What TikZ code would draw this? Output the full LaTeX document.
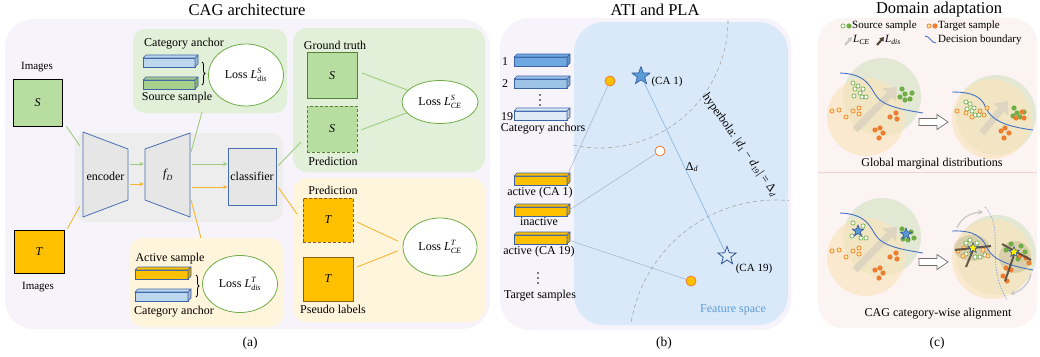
\documentclass[tikz,border=0pt]{standalone}
\usepackage{fontspec}
\setmainfont{Liberation Serif}
\usepackage{amsmath}
\usetikzlibrary{shapes.geometric,arrows.meta,calc,decorations.pathreplacing}
\definecolor{bgA}{HTML}{F6F4FA}
\definecolor{bbg}{HTML}{EDEDED}
\definecolor{trapfill}{HTML}{E6E6E6}
\definecolor{tblue}{HTML}{4A6DB5}
\definecolor{gpanel}{HTML}{E2F0D9}
\definecolor{ypanel}{HTML}{FFF5DC}
\definecolor{sgreen}{HTML}{B7DEA0}
\definecolor{dgreenb}{HTML}{548235}
\definecolor{torange}{HTML}{FFC000}
\definecolor{tbrown}{HTML}{8C5E10}
\definecolor{lgreen}{HTML}{9ECC7E}
\definecolor{lorange}{HTML}{F5B730}
\definecolor{egreen}{HTML}{70AD47}
\definecolor{barline}{HTML}{3B63A8}
\definecolor{barblue}{HTML}{BDD7EE}
\definecolor{bargreen}{HTML}{A9D18E}
\definecolor{cablue1}{HTML}{6FA8E0}
\definecolor{cablue2}{HTML}{9DC3E6}
\definecolor{cablue3}{HTML}{DEEBF7}
\definecolor{fspace}{HTML}{DAE9FA}
\definecolor{flinec}{HTML}{A3B3C6}
\definecolor{starblue}{HTML}{5B9BD5}
\definecolor{stardark}{HTML}{2F5597}
\definecolor{ptorange}{HTML}{ED7D31}
\definecolor{bgC}{HTML}{FCF3F3}
\definecolor{sepC}{HTML}{F0D2D2}
\definecolor{cgreen}{HTML}{E3E8D5}
\definecolor{corange}{HTML}{FBE3B7}
\definecolor{ptgreen}{HTML}{70AD47}
\definecolor{ptyellow}{HTML}{FFE699}
\definecolor{bigarr}{HTML}{DDD5C0}
\definecolor{dbound}{HTML}{4472C4}
\definecolor{ldisc}{HTML}{4D4136}
\definecolor{clus}{HTML}{BDB68C}

\newcommand\featbar[5]{%
  \node[draw=barline,fill=#5,line width=.6pt,minimum width=#4,minimum height=9pt,inner sep=0pt,outer sep=0pt,anchor=north west] (#1) at (#2,#3) {};
  \filldraw[draw=barline,fill=#5,line width=.6pt,line join=round] (#1.north west) -- ++(3,-3) -- ($(#1.north east)+(3,-3)$) -- (#1.north east) -- cycle;
  \filldraw[draw=barline,fill=#5!85!black,line width=.6pt,line join=round] (#1.north east) -- ++(3,-3) -- ($(#1.south east)+(3,-3)$) -- (#1.south east) -- cycle;
}
\newcommand\ptGh[2]{\filldraw[draw=ptgreen,fill=white,line width=.7pt] (#1,#2) circle[radius=2.1pt];}
\newcommand\ptGf[2]{\fill[ptgreen] (#1,#2) circle[radius=2.6pt];}
\newcommand\ptOh[2]{\filldraw[draw=ptorange,fill=ptyellow,line width=.7pt] (#1,#2) circle[radius=2.1pt];}
\newcommand\ptOf[2]{\fill[ptorange] (#1,#2) circle[radius=2.6pt];}
\newcommand\hollowarrow[2]{\begin{scope}[shift={(#1,#2)}]
  \filldraw[draw=gray!85!black,fill=white,line width=.7pt,line join=miter] (0,-3.5) -- (18,-3.5) -- (18,-7.5) -- (29,0) -- (18,7.5) -- (18,3.5) -- (0,3.5) -- cycle;
\end{scope}}

\begin{document}
\begin{tikzpicture}[x=1pt,y=-1pt,
  every node/.style={inner sep=0pt},
  lbl/.style={font=\fontsize{12}{14}\selectfont},
  smalllbl/.style={font=\fontsize{11}{13}\selectfont},
  ttl/.style={font=\fontsize{16.5}{19}\selectfont},
  capt/.style={font=\fontsize{13.5}{16}\selectfont},
  gline/.style={draw=lgreen, line width=0.9pt},
  oline/.style={draw=lorange, line width=0.9pt},
  arr/.style={-{Stealth[length=4.5pt,width=4pt]}},
  lossel/.style={ellipse, draw=egreen, fill=white, line width=0.8pt, font=\fontsize{12}{14}\selectfont},
  trap/.style={draw=tblue, fill=trapfill, line width=.8pt, line join=round},
  imgbox/.style={draw=black, line width=0.8pt, font=\fontsize{12}{14}\selectfont\itshape},
  sbox/.style={draw=dgreenb, fill=sgreen, line width=0.8pt, minimum width=50pt, minimum height=46pt, font=\fontsize{12}{14}\selectfont\itshape},
  tbox/.style={draw=tbrown, fill=torange, line width=0.8pt, minimum width=50pt, minimum height=44pt, font=\fontsize{12}{14}\selectfont\itshape},
  fline/.style={draw=flinec, line width=0.5pt},
  dasharc/.style={draw=gray!70, dashed, dash pattern=on 4pt off 3pt, line width=.6pt},
  fpt/.style={circle, minimum size=10pt, line width=.8pt, draw=ptorange},
  bigarrow/.style={draw=bigarr, line width=7pt, -{Triangle[length=11pt,width=18pt]}},
  ldisarrow/.style={draw=ldisc, line width=2pt, opacity=.85},
]
\useasboundingbox (0,0) rectangle (1040,356);

% ================= titles =================
\node[ttl] (t-a) at (247,10) {CAG architecture};
\node[ttl] (t-b) at (655,10) {ATI and PLA};
\node[ttl] (t-c) at (939,10) {Domain adaptation};
\node[capt] (c-a) at (250,343) {(a)};
\node[capt] (c-b) at (664,343) {(b)};
\node[capt] (c-c) at (937,343) {(c)};

% ================= panel (a) =================
\fill[bgA, rounded corners=28pt] (5,19) rectangle (490,329);
\fill[bbg, rounded corners=12pt] (75,133) rectangle (283,222);
\fill[gpanel, rounded corners=12pt] (133,29) rectangle (287,113);
\fill[ypanel, rounded corners=12pt] (130,238) rectangle (283,327);
\fill[gpanel, rounded corners=14pt] (293,28) rectangle (485,172);
\fill[ypanel, rounded corners=14pt] (293,178) rectangle (485,322);

% input images
\node[imgbox, fill=sgreen, minimum width=49pt, minimum height=47pt] (imgS) at (37.5,102.5) {S};
\node[smalllbl] (imgS-l) at (37,67) {Images};
\node[imgbox, fill=torange, minimum width=50pt, minimum height=43pt] (imgT) at (39,251.5) {T};
\node[smalllbl] (imgT-l) at (38,287) {Images};

% encoder / fD / classifier
\filldraw[trap] (83,132) -- (128,149) -- (128,200) -- (83,217) -- cycle;
\node[lbl] (enc) at (105.5,176) {encoder};
\filldraw[trap] (145,149) -- (190,133) -- (190,217) -- (145,200) -- cycle;
\node[lbl] (fd) at (168,175) {$\textit{f}_{\textit{D}}$};
\node[draw=tblue, fill=trapfill, line width=.8pt, minimum width=48pt, minimum height=57pt, lbl] (cls) at (252,176.5) {classifier};

\coordinate (encInS) at (80,146);
\coordinate (encInT) at (80,206);
\draw[gline] ($(imgS.south east)+(4,0)$) -- (encInS);
\draw[oline] ($(imgT.north east)+(3,-1)$) -- (encInT);
\coordinate (encG) at (130,164); \coordinate (fdG) at (144,164);
\coordinate (encO) at (130,184); \coordinate (fdO) at (144,184);
\draw[gline,arr] (encG) -- (fdG);
\draw[oline,arr] (encO) -- (fdO);
\coordinate (fdG2) at (192,164); \coordinate (fdO2) at (192,187);
\draw[gline,arr] (fdG2) -- (fdG2 -| cls.west);
\draw[oline,arr] (fdO2) -- (fdO2 -| cls.west);
\coordinate (fdTop) at (191,152); \coordinate (srcP) at (202,112);
\coordinate (fdBot) at (191,200); \coordinate (tgtP) at (201,238);
\draw[gline] (fdTop) -- (srcP);
\draw[oline] (fdBot) -- (tgtP);
\coordinate (gtP) at (301,142); \coordinate (ptP) at (297,214);
\draw[gline] ($(cls.east)+(2,-11)$) -- (gtP);
\draw[oline] ($(cls.east)+(2,11)$) -- (ptP);

% source distance panel
\node[lbl] (ca-a1) at (184,44) {Category anchor};
\featbar{bA1}{143}{58}{52pt}{barblue}
\featbar{bS1}{143}{80}{52pt}{bargreen}
\node[lbl] (ss-a) at (177,98) {Source sample};
\draw[decorate, decoration={brace, amplitude=3pt}, line width=.8pt] (202,62) -- (202,85);
\node[lossel, minimum width=75pt, minimum height=62pt] (ldisS) at (246,75) {Loss $\textit{L}^{\textit{S}}_{\textit{dis}}$};

% target distance panel
\node[lbl] (as-a) at (170,259) {Active sample};
\featbar{bT1}{135}{270}{53pt}{torange}
\featbar{bA2}{135}{292}{53pt}{barblue}
\node[lbl] (ca-a2) at (174,312) {Category anchor};
\draw[decorate, decoration={brace, amplitude=3pt}, line width=.8pt] (196,275) -- (196,297);
\node[lossel, minimum width=75pt, minimum height=57pt] (ldisT) at (240,284) {Loss $\textit{L}^{\textit{T}}_{\textit{dis}}$};

% source CE panel
\node[lbl] (gt-l) at (335,45) {Ground truth};
\node[sbox] (gtS) at (332,75.5) {S};
\node[sbox, dashed, dash pattern=on 3pt off 2pt] (prS) at (332,129) {S};
\node[lbl] (prS-l) at (333,161) {Prediction};
\node[lossel, minimum width=76pt, minimum height=43pt] (lceS) at (440,102) {Loss $\textit{L}^{\textit{S}}_{\textit{CE}}$};
\coordinate (gtS-o) at (362,73); \coordinate (prS-o) at (361,130);
\draw[gline] (gtS-o) -- (lceS.160);
\draw[gline] (prS-o) -- (lceS.198);

% target CE panel
\node[lbl] (prT-l) at (333,190) {Prediction};
\node[tbox, dashed, dash pattern=on 3pt off 2pt] (prT) at (328,220) {T};
\node[tbox] (plT) at (328,279) {T};
\node[lbl] (plT-l) at (333,309) {Pseudo labels};
\node[lossel, minimum width=74pt, minimum height=58pt] (lceT) at (440,247) {Loss $\textit{L}^{\textit{T}}_{\textit{CE}}$};
\coordinate (prT-o) at (357,222); \coordinate (plT-o) at (357,267);
\draw[oline] (prT-o) -- ($(lceT.west)+(-5,-6)$);
\draw[oline] (plT-o) -- ($(lceT.west)+(-5,4)$);

% ================= panel (b) =================
\fill[bgA, rounded corners=30pt] (500,18) rectangle (791,330);
\fill[fspace, rounded corners=30pt] (574,22) rectangle (788,325);

\featbar{ca1}{514}{57}{53pt}{cablue1}
\featbar{ca2}{514}{79}{53pt}{cablue2}
\featbar{ca19}{514}{111}{53pt}{cablue3}
\node[lbl] (n1) at (505,62) {1};
\node[lbl] (n2) at (505,84) {2};
\node[lbl] (n19) at (507,117) {19};
\foreach \yy in {95,100,105} \fill (540,\yy) circle[radius=.9pt];
\node[lbl] (cas-l) at (543,129) {Category anchors};

\featbar{t1}{514}{176}{53pt}{torange}
\featbar{t2}{514}{207}{53pt}{torange}
\featbar{t3}{514}{235}{53pt}{torange}
\node[lbl] (t1-l) at (540,193) {active (CA 1)};
\node[lbl] (t2-l) at (539,222) {inactive};
\node[lbl] (t3-l) at (539,252) {active (CA 19)};
\foreach \yy in {273,278,283} \fill (538,\yy) circle[radius=.9pt];
\node[lbl] (ts-l) at (540,296) {Target samples};

% dashed hyperbola arcs
\draw[dasharc] (728,20) arc[start angle=0, end angle=102, radius=128];
\draw[dasharc] (776,347) ++(190:147) arc[start angle=190, end angle=275, radius=147];

\node[fpt, fill=torange] (p1) at (610,81) {};
\node[fpt, fill=white] (p2) at (660,151) {};
\node[fpt, fill=torange] (p3) at (691,281) {};
\draw[fline] (t1.north east) -- (p1);
\draw[fline] (t2.east) -- (p2);
\draw[fline] (t3.east) -- (p3);

\node[star, star points=5, star point ratio=2.4, minimum size=19pt, fill=starblue, draw=stardark, line width=.6pt] (s1) at (641,76) {};
\node[star, star points=5, star point ratio=2.4, minimum size=19pt, fill=cablue3, draw=stardark, line width=.8pt] (s19) at (727,256) {};
\node[smalllbl] (s1-l) at (667,82) {(CA 1)};
\node[smalllbl] (s19-l) at (754,269) {(CA 19)};
\draw[draw=starblue!70, line width=.7pt] (s1) -- (s19);
\node[lbl] (dd) at (692,167) {Δ\textsubscript{\textit{d}}};
\node[lbl, rotate=-55] (hyp) at (740,145) {hyperbola: |\textit{d}\textsubscript{1} − \textit{d}\textsubscript{19}| = Δ\textsubscript{\textit{d}}};
\node[lbl, text=starblue] (fs-l) at (733,310) {Feature space};

% ================= panel (c) =================
\fill[bgC, rounded corners=25pt] (818,18) rectangle (1037,328);
\draw[sepC, line width=.8pt] (818,172) -- (1037,172);

% legend
\ptGh{843}{26} \ptGf{849}{26}
\node[smalllbl, anchor=west] (lg1) at (852,26) {Source sample};
\ptOh{929}{26} \ptOf{935}{26}
\node[smalllbl, anchor=west] (lg2) at (938,26) {Target sample};
\coordinate (lgA1) at (845,45); \coordinate (lgA2) at (852,37);
\draw[draw=gray!45, line width=2pt, -{Triangle[length=4pt,width=5pt]}] (lgA1) -- (lgA2);
\node[smalllbl, anchor=west] (lg3) at (853,40) {$\textit{L}_{\textit{CE}}$};
\coordinate (lgB1) at (877,45); \coordinate (lgB2) at (884,37);
\draw[draw=ldisc, line width=2pt, -{Triangle[length=4pt,width=5pt]}] (lgB1) -- (lgB2);
\node[smalllbl, anchor=west] (lg4) at (885,40) {$\textit{L}_{\textit{dis}}$};
\draw[dbound, line width=.9pt] (925,36) .. controls (930,36) and (931,43) .. (936,43);
\node[smalllbl, anchor=west] (lg5) at (938,40) {Decision boundary};

% ---- left scenes (top and bottom) ----
\foreach \dy in {0,140}{
\begin{scope}[shift={(0,\dy)}]
  \fill[cgreen] (882,97) circle[radius=39pt];
  \fill[corange, opacity=.6] (866,117) circle[radius=39pt];
  \draw[bigarrow] (855,130) -- (897,87);
  \draw[dbound, line width=.9pt] (840,73) .. controls (868,74) and (870,88) .. (877,97) .. controls (885,107) and (905,110) .. (923,113);
  \foreach \x/\y in {832/111,839/110,846/117,853/111,859/108,859/114} {\ptOh{\x}{\y}}
  \foreach \x/\y in {890/117,896/113,897/119,875/130,880/128,883/133,879/138} {\ptOf{\x}{\y}}
\end{scope}
}
% top-left samples
\foreach \x/\y in {853/83,858/86,863/89,855/89,860/93,854/96,862/97,866/97} {\ptGh{\x}{\y}}
\foreach \x/\y in {902/89,905/94,912/93,900/97,905/100,910/99} {\ptGf{\x}{\y}}
% bottom-left samples with anchors
\foreach \x/\y in {853/223,863/226,852/236,861/238,866/238} {\ptGh{\x}{\y}}
\foreach \x/\y in {902/229,911/232,903/239,908/240,914/238} {\ptGf{\x}{\y}}
\node[star, star points=5, star point ratio=2.4, minimum size=12pt, fill=starblue, draw=stardark, line width=.6pt] (cs1) at (858,231) {};
\node[star, star points=5, star point ratio=2.4, minimum size=12pt, fill=starblue, draw=stardark, line width=.6pt] (cs2) at (906,234) {};

% transition arrows
\hollowarrow{919}{122}
\hollowarrow{919}{262}

% ---- top-right scene ----
\fill[cgreen] (996,115) circle[radius=40pt];
\fill[corange, opacity=.6] (992,119) circle[radius=40pt];
\draw[bigarrow] (982,133) -- (1008,101);
\draw[dbound, line width=.9pt] (952,92) .. controls (975,92) and (982,98) .. (986,108) .. controls (992,122) and (1010,127) .. (1033,130);
\foreach \x/\y in {966/102,970/104,974/108,967/109,972/111,975/115,979/115} {\ptGh{\x}{\y}}
\foreach \x/\y in {957/111,966/113,972/117,980/111,984/115,987/108} {\ptOh{\x}{\y}}
\foreach \x/\y in {1014/108,1017/113,1024/112,1013/116,1020/117} {\ptGf{\x}{\y}}
\foreach \x/\y in {1022/112,1016/118,1024/118,1005/128,1001/131,1009/133,1004/138} {\ptOf{\x}{\y}}
\node[lbl] (gmd) at (932,164) {Global marginal distributions};

% ---- bottom-right scene ----
\fill[cgreen] (996,255) circle[radius=40pt];
\fill[corange, opacity=.6] (992,259) circle[radius=40pt];
\fill[clus, opacity=.45] (972,248) ellipse[x radius=18pt, y radius=13pt];
\fill[clus, opacity=.45] (1015,257) ellipse[x radius=16pt, y radius=16pt];
\draw[draw=gray!45, line width=1.2pt, -{Stealth[length=5pt,width=5pt]}] (957,228) .. controls (961,218) and (970,213) .. (983,212);
\draw[draw=gray!45, line width=1.2pt, -{Stealth[length=5pt,width=5pt]}] (1031,274) .. controls (1029,284) and (1021,291) .. (1010,294);
\draw[draw=dbound!60, line width=.7pt, dash pattern=on 1.5pt off 1.2pt] (985,207) .. controls (1006,230) and (984,262) .. (1007,300);
\draw[dbound, line width=.9pt] (952,231) .. controls (975,230) and (983,238) .. (987,248) .. controls (993,260) and (1010,266) .. (1033,270);
\foreach \x/\y in {966/243,970/240,977/243,966/254,975/257,980/257,985/255} {\ptGh{\x}{\y}}
\foreach \x/\y in {958/251,964/248,983/250,988/256,963/256} {\ptOh{\x}{\y}}
\foreach \x/\y in {1011/244,1006/250,1018/259,1025/252,1021/246} {\ptGf{\x}{\y}}
\foreach \x/\y in {1020/256,1026/258,1029/263,1006/268,1011/270,1003/276,1007/281} {\ptOf{\x}{\y}}
\coordinate (lL1) at (955,250); \coordinate (lL2) at (991,246);
\coordinate (lL3) at (973,250); \coordinate (lL4) at (966,267);
\coordinate (lR1) at (1002,244); \coordinate (lR2) at (1031,260);
\coordinate (lR3) at (1014,255); \coordinate (lR4) at (1005,281);
\draw[ldisarrow] (lL1) -- (lL2);
\draw[ldisarrow] (lL3) -- (lL4);
\draw[ldisarrow] (lR1) -- (lR2);
\draw[ldisarrow] (lR3) -- (lR4);
\node[star, star points=5, star point ratio=2.4, minimum size=11pt, fill=yellow, draw=stardark, line width=.6pt] (cs3) at (973,248) {};
\node[star, star points=5, star point ratio=2.4, minimum size=11pt, fill=yellow, draw=stardark, line width=.6pt] (cs4) at (1014,252) {};
\node[lbl] (cwa) at (938,314) {CAG category-wise alignment};
\end{tikzpicture}
\end{document}
